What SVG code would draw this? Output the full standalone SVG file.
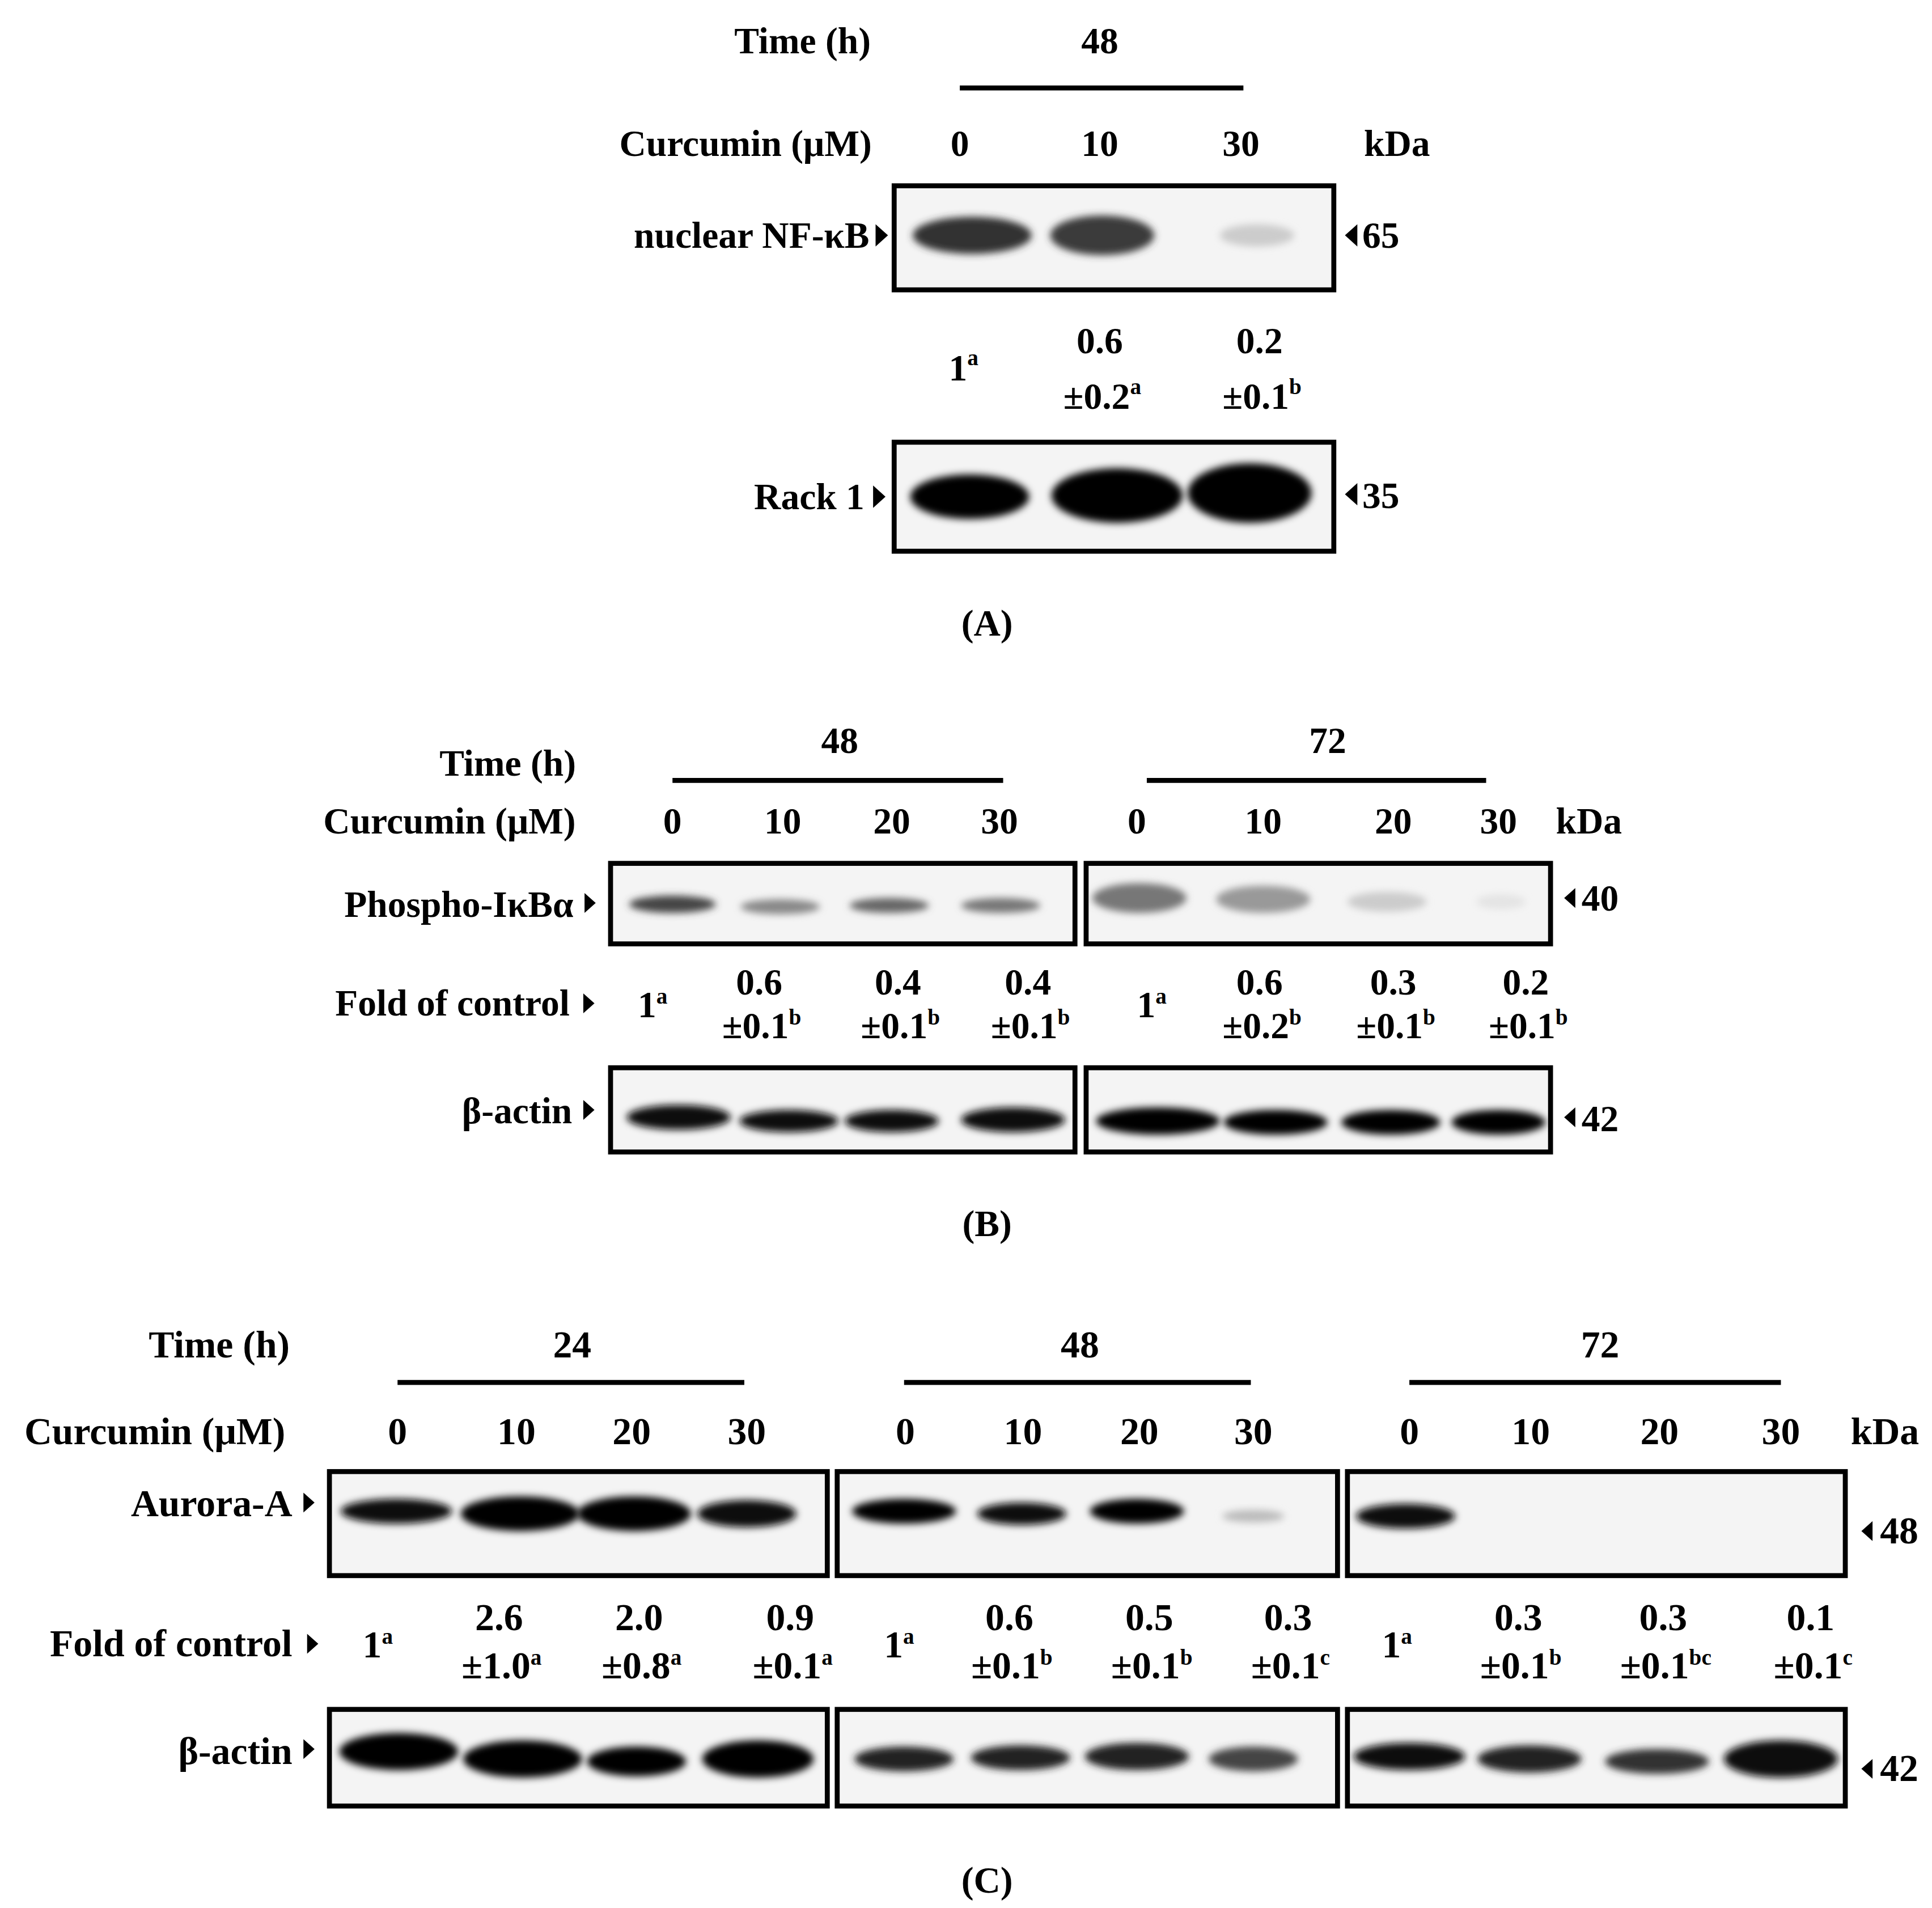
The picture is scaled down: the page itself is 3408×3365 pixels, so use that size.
<svg xmlns="http://www.w3.org/2000/svg" width="3408" height="3365" viewBox="0 0 3408 3365">
<defs>
<style>
text{font-family:"Liberation Serif","DejaVu Serif",serif;font-weight:bold;fill:#000}
.a{font-size:30px}.b{font-size:30px}.c{font-size:31px}.m{text-anchor:middle}.e{text-anchor:end}
.s{font-size:18px}
.box{fill:#f4f4f4;stroke:#000;stroke-width:4}
.ln{stroke:#000;stroke-width:4}
.bd{filter:url(#bl)}
</style>
<filter id="bl" x="-20%" y="-50%" width="140%" height="200%"><feGaussianBlur stdDeviation="3"/></filter>
</defs>
<rect width="3408" height="3365" fill="#fff"/>
<g transform="scale(2.1846)">
<g id="panelA">
<text class="a m" x="648" y="43">Time (h)</text>
<text class="a m" x="888" y="43">48</text>
<line class="ln" x1="775" y1="71" x2="1004" y2="71"/>
<text class="a m" x="602" y="126">Curcumin (μM)</text>
<text class="a m" x="775" y="126">0</text><text class="a m" x="888" y="126">10</text><text class="a m" x="1002" y="126">30</text><text class="a m" x="1128" y="126">kDa</text>
<rect class="box" x="722" y="150" width="355" height="84"/>
<ellipse class="bd" cx="785" cy="190" rx="48" ry="15" fill="#333"/>
<ellipse class="bd" cx="890" cy="190" rx="42" ry="16" fill="#3a3a3a"/>
<ellipse class="bd" cx="1015" cy="190" rx="30" ry="9" fill="#ccc"/>
<text class="a e" x="702" y="200">nuclear NF-κB</text><path d="M707 181l10 9-10 9z"/>
<path d="M1096 181l-10 9 10 9z"/><text class="a" x="1100" y="200">65</text>
<text class="a m" x="778" y="307">1<tspan class="s" dy="-12">a</tspan></text>
<text class="a m" x="888" y="285">0.6</text><text class="a m" x="890" y="330">±0.2<tspan class="s" dy="-12">a</tspan></text>
<text class="a m" x="1017" y="285">0.2</text><text class="a m" x="1019" y="330">±0.1<tspan class="s" dy="-12">b</tspan></text>
<rect class="box" x="722" y="357" width="355" height="88"/>
<ellipse class="bd" cx="783" cy="401" rx="48" ry="18" fill="#000"/>
<ellipse class="bd" cx="902" cy="400" rx="53" ry="22" fill="#000"/>
<ellipse class="bd" cx="1009" cy="398" rx="50" ry="24" fill="#000"/>
<text class="a e" x="698" y="411">Rack 1</text><path d="M705 392l10 9-10 9z"/>
<path d="M1096 390l-10 9 10 9z"/><text class="a" x="1100" y="410">35</text>
<text class="a m" x="797" y="513">(A)</text>
</g>
<g id="panelB">
<text class="b m" x="410" y="626">Time (h)</text>
<text class="b m" x="678" y="608">48</text><line class="ln" x1="543" y1="630" x2="810" y2="630"/>
<text class="b m" x="1072" y="608">72</text><line class="ln" x1="926" y1="630" x2="1200" y2="630"/>
<text class="b m" x="363" y="673">Curcumin (μM)</text>
<text class="b m" x="543" y="673">0</text><text class="b m" x="632" y="673">10</text><text class="b m" x="720" y="673">20</text><text class="b m" x="807" y="673">30</text>
<text class="b m" x="918" y="673">0</text><text class="b m" x="1020" y="673">10</text><text class="b m" x="1125" y="673">20</text><text class="b m" x="1210" y="673">30</text>
<text class="b m" x="1283" y="673">kDa</text>
<rect class="box" x="493" y="697" width="375" height="65"/>
<rect class="box" x="877" y="697" width="375" height="65"/>
<ellipse class="bd" cx="543" cy="730" rx="35" ry="7" fill="#444"/>
<ellipse class="bd" cx="630" cy="732" rx="32" ry="6" fill="#888"/>
<ellipse class="bd" cx="718" cy="731" rx="32" ry="6" fill="#666"/>
<ellipse class="bd" cx="808" cy="731" rx="32" ry="6" fill="#777"/>
<ellipse class="bd" cx="920" cy="725" rx="38" ry="12" fill="#777"/>
<ellipse class="bd" cx="1020" cy="726" rx="38" ry="11" fill="#999"/>
<ellipse class="bd" cx="1120" cy="728" rx="32" ry="8" fill="#ccc"/>
<ellipse class="bd" cx="1212" cy="728" rx="20" ry="6" fill="#e4e4e4"/>
<text class="b e" x="463" y="740">Phospho-IκBα</text><path d="M472 721l9 8-9 8z"/>
<path d="M1272 717l-9 8 9 8z"/><text class="b" x="1277" y="735">40</text>
<text class="b e" x="460" y="820">Fold of control</text><path d="M471 802l9 8-9 8z"/>
<text class="b m" x="527" y="821">1<tspan class="s" dy="-11">a</tspan></text>
<text class="b m" x="613" y="803">0.6</text><text class="b m" x="615" y="838">±0.1<tspan class="s" dy="-11">b</tspan></text>
<text class="b m" x="725" y="803">0.4</text><text class="b m" x="727" y="838">±0.1<tspan class="s" dy="-11">b</tspan></text>
<text class="b m" x="830" y="803">0.4</text><text class="b m" x="832" y="838">±0.1<tspan class="s" dy="-11">b</tspan></text>
<text class="b m" x="930" y="821">1<tspan class="s" dy="-11">a</tspan></text>
<text class="b m" x="1017" y="803">0.6</text><text class="b m" x="1019" y="838">±0.2<tspan class="s" dy="-11">b</tspan></text>
<text class="b m" x="1125" y="803">0.3</text><text class="b m" x="1127" y="838">±0.1<tspan class="s" dy="-11">b</tspan></text>
<text class="b m" x="1232" y="803">0.2</text><text class="b m" x="1234" y="838">±0.1<tspan class="s" dy="-11">b</tspan></text>
<rect class="box" x="493" y="862" width="375" height="68"/>
<rect class="box" x="877" y="862" width="375" height="68"/>
<ellipse class="bd" cx="548" cy="902" rx="42" ry="10" fill="#111"/>
<ellipse class="bd" cx="637" cy="905" rx="40" ry="9" fill="#111"/>
<ellipse class="bd" cx="720" cy="905" rx="38" ry="9" fill="#111"/>
<ellipse class="bd" cx="818" cy="904" rx="42" ry="10" fill="#111"/>
<ellipse class="bd" cx="935" cy="905" rx="50" ry="11" fill="#000"/>
<ellipse class="bd" cx="1030" cy="906" rx="42" ry="10" fill="#000"/>
<ellipse class="bd" cx="1123" cy="906" rx="40" ry="10" fill="#000"/>
<ellipse class="bd" cx="1210" cy="906" rx="38" ry="10" fill="#000"/>
<text class="b e" x="462" y="907">β-actin</text><path d="M471 888l9 8-9 8z"/>
<path d="M1272 894l-9 8 9 8z"/><text class="b" x="1277" y="913">42</text>
<text class="a m" x="797" y="998">(B)</text>
</g>
<g id="panelC">
<text class="c m" x="177" y="1096">Time (h)</text>
<text class="c m" x="462" y="1096">24</text><line class="ln" x1="321" y1="1116" x2="601" y2="1116"/>
<text class="c m" x="872" y="1096">48</text><line class="ln" x1="730" y1="1116" x2="1010" y2="1116"/>
<text class="c m" x="1292" y="1096">72</text><line class="ln" x1="1138" y1="1116" x2="1438" y2="1116"/>
<text class="c m" x="125" y="1166">Curcumin (μM)</text>
<text class="c m" x="321" y="1166">0</text><text class="c m" x="417" y="1166">10</text><text class="c m" x="510" y="1166">20</text><text class="c m" x="603" y="1166">30</text>
<text class="c m" x="731" y="1166">0</text><text class="c m" x="826" y="1166">10</text><text class="c m" x="920" y="1166">20</text><text class="c m" x="1012" y="1166">30</text>
<text class="c m" x="1138" y="1166">0</text><text class="c m" x="1236" y="1166">10</text><text class="c m" x="1340" y="1166">20</text><text class="c m" x="1438" y="1166">30</text>
<text class="c m" x="1522" y="1166">kDa</text>
<rect class="box" x="266" y="1188" width="402" height="84"/>
<rect class="box" x="676" y="1188" width="404" height="84"/>
<rect class="box" x="1088" y="1188" width="402" height="84"/>
<ellipse class="bd" cx="320" cy="1220" rx="45" ry="10" fill="#111"/>
<ellipse class="bd" cx="420" cy="1222" rx="48" ry="14" fill="#000"/>
<ellipse class="bd" cx="512" cy="1222" rx="46" ry="14" fill="#000"/>
<ellipse class="bd" cx="603" cy="1222" rx="40" ry="11" fill="#111"/>
<ellipse class="bd" cx="730" cy="1220" rx="42" ry="10" fill="#000"/>
<ellipse class="bd" cx="825" cy="1222" rx="36" ry="9" fill="#111"/>
<ellipse class="bd" cx="918" cy="1220" rx="38" ry="10" fill="#000"/>
<ellipse class="bd" cx="1012" cy="1224" rx="25" ry="5" fill="#bbb"/>
<ellipse class="bd" cx="1135" cy="1224" rx="40" ry="10" fill="#111"/>
<text class="c e" x="236" y="1224">Aurora-A</text><path d="M245 1205l9 8-9 8z"/>
<path d="M1512 1228l-9 8 9 8z"/><text class="c" x="1518" y="1246">48</text>
<text class="c e" x="236" y="1337">Fold of control</text><path d="M248 1319l9 8-9 8z"/>
<text class="c m" x="305" y="1338">1<tspan class="s" dy="-11">a</tspan></text>
<text class="c m" x="403" y="1316">2.6</text><text class="c m" x="405" y="1355">±1.0<tspan class="s" dy="-11">a</tspan></text>
<text class="c m" x="516" y="1316">2.0</text><text class="c m" x="518" y="1355">±0.8<tspan class="s" dy="-11">a</tspan></text>
<text class="c m" x="638" y="1316">0.9</text><text class="c m" x="640" y="1355">±0.1<tspan class="s" dy="-11">a</tspan></text>
<text class="c m" x="726" y="1338">1<tspan class="s" dy="-11">a</tspan></text>
<text class="c m" x="815" y="1316">0.6</text><text class="c m" x="817" y="1355">±0.1<tspan class="s" dy="-11">b</tspan></text>
<text class="c m" x="928" y="1316">0.5</text><text class="c m" x="930" y="1355">±0.1<tspan class="s" dy="-11">b</tspan></text>
<text class="c m" x="1040" y="1316">0.3</text><text class="c m" x="1042" y="1355">±0.1<tspan class="s" dy="-11">c</tspan></text>
<text class="c m" x="1128" y="1338">1<tspan class="s" dy="-11">a</tspan></text>
<text class="c m" x="1226" y="1316">0.3</text><text class="c m" x="1228" y="1355">±0.1<tspan class="s" dy="-11">b</tspan></text>
<text class="c m" x="1343" y="1316">0.3</text><text class="c m" x="1345" y="1355">±0.1<tspan class="s" dy="-11">bc</tspan></text>
<text class="c m" x="1462" y="1316">0.1</text><text class="c m" x="1464" y="1355">±0.1<tspan class="s" dy="-11">c</tspan></text>
<rect class="box" x="266" y="1380" width="402" height="78"/>
<rect class="box" x="676" y="1380" width="404" height="78"/>
<rect class="box" x="1088" y="1380" width="402" height="78"/>
<ellipse class="bd" cx="322" cy="1414" rx="48" ry="15" fill="#000"/>
<ellipse class="bd" cx="422" cy="1420" rx="48" ry="15" fill="#000"/>
<ellipse class="bd" cx="514" cy="1422" rx="40" ry="12" fill="#000"/>
<ellipse class="bd" cx="612" cy="1420" rx="45" ry="15" fill="#000"/>
<ellipse class="bd" cx="730" cy="1420" rx="40" ry="10" fill="#222"/>
<ellipse class="bd" cx="824" cy="1419" rx="40" ry="10" fill="#222"/>
<ellipse class="bd" cx="918" cy="1418" rx="42" ry="11" fill="#222"/>
<ellipse class="bd" cx="1012" cy="1420" rx="36" ry="10" fill="#444"/>
<ellipse class="bd" cx="1138" cy="1418" rx="45" ry="11" fill="#111"/>
<ellipse class="bd" cx="1235" cy="1420" rx="42" ry="11" fill="#222"/>
<ellipse class="bd" cx="1338" cy="1422" rx="42" ry="10" fill="#333"/>
<ellipse class="bd" cx="1438" cy="1420" rx="46" ry="15" fill="#111"/>
<text class="c e" x="236" y="1424">β-actin</text><path d="M245 1404l9 8-9 8z"/>
<path d="M1512 1420l-9 8 9 8z"/><text class="c" x="1518" y="1438">42</text>
<text class="a m" x="797" y="1528">(C)</text>
</g>
</g>
</svg>
